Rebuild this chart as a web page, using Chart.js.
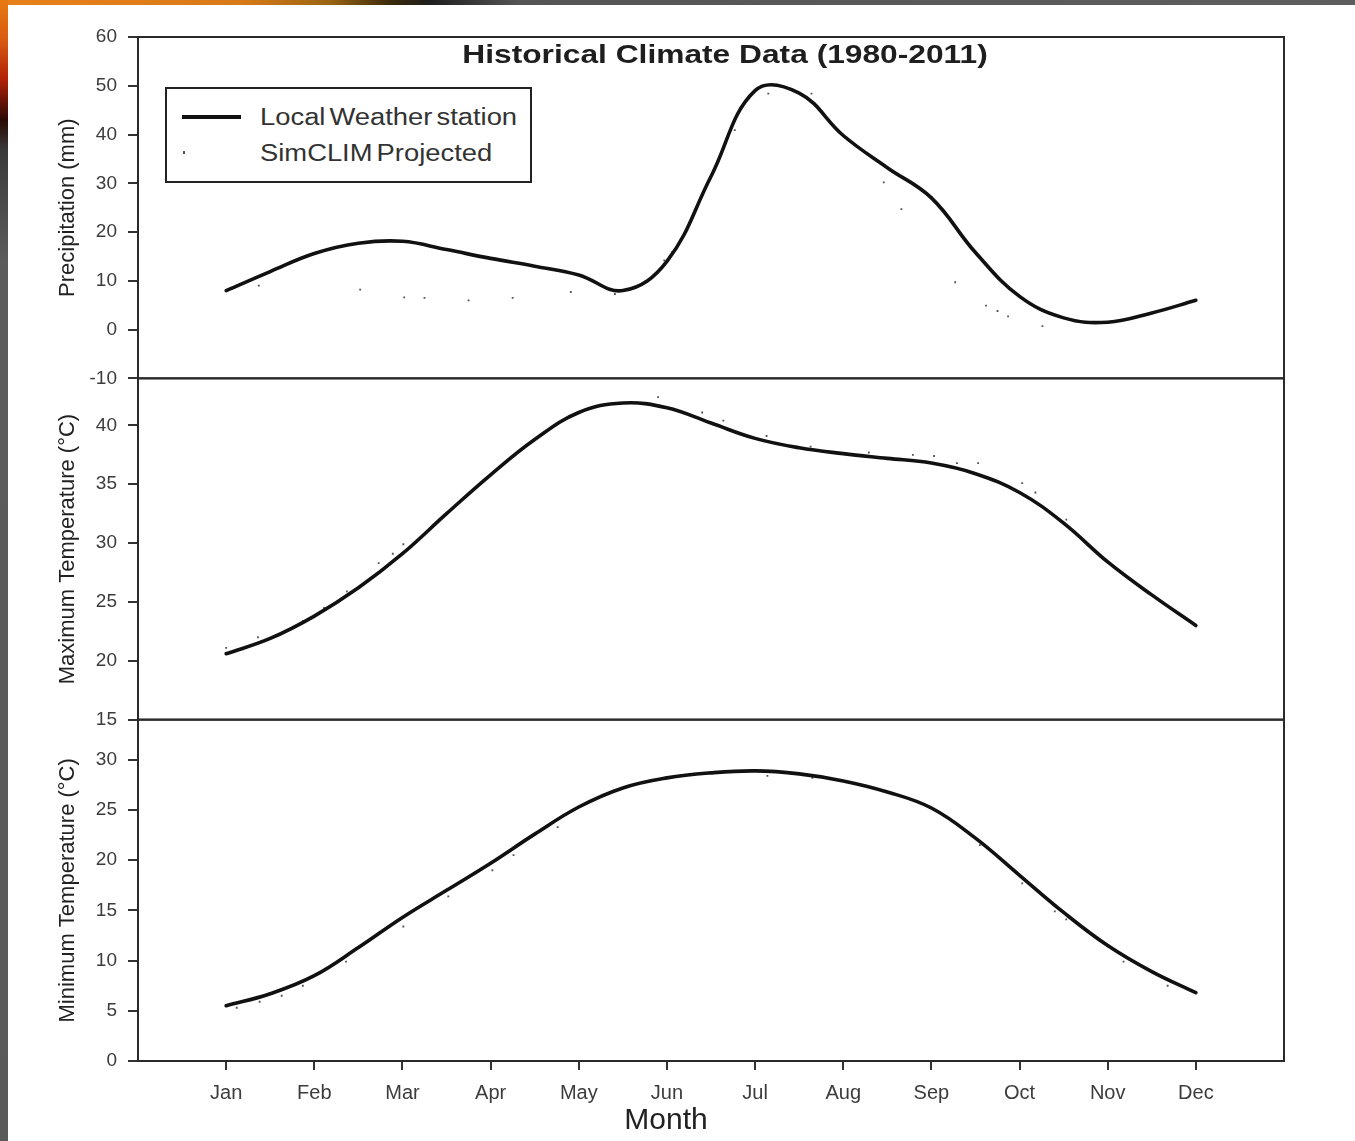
<!DOCTYPE html>
<html>
<head>
<meta charset="utf-8">
<script src="https://cdn.jsdelivr.net/npm/chart.js@4.4.1/dist/chart.umd.min.js"></script>
<style>
  html, body { margin:0; padding:0; width:1355px; height:1141px; overflow:hidden; background:#5a5a5a; }
  #topStrip { position:absolute; left:0; top:0; width:1355px; height:5px;
    background: linear-gradient(to right, #e8801a 0px, #d97a18 240px, #9a6312 330px, #3a2a0a 390px, #1e1e1e 430px, #555 520px, #5e5e5e 1355px); }
  #leftStrip { position:absolute; left:0; top:0; width:8px; height:1141px;
    background: linear-gradient(to bottom, #e87a12 0px, #d85a10 40px, #b02008 80px, #2a0a04 120px, #3a3a3a 150px, #5c5c5c 260px, #5a5a5a 1141px); }
  #wrap { position:absolute; left:8px; top:5px; width:1347px; height:1136px; background:#fff; }
  #chart { display:block; width:1347px; height:1136px; }
  .ov { position:absolute; white-space:nowrap; font-family:'Liberation Sans', Arial, sans-serif; }
  #title { left:725px; top:54px; font-weight:bold; font-size:26px; color:#1e1e1e;
    transform: translate(-50%, -50%) scaleX(1.22); }
  #legend { position:absolute; left:165px; top:87px; width:367px; height:96px; box-sizing:border-box;
    border:2px solid #222; background:#fff; }
  #legLine { position:absolute; left:15px; top:26px; width:59px; height:4px; background:#111; }
  #legDot { position:absolute; left:16px; top:62px; width:2px; height:3px; background:#555; }
  .legText { position:absolute; left:93px; font-size:23px; color:#333; word-spacing:-3px;
    transform-origin: left center; transform: translateY(-50%) scaleX(1.19); white-space:nowrap;
    font-family:'Liberation Sans', Arial, sans-serif; }
  #legT1 { top:28px; }
  #legT2 { top:64px; }
  #month { left:666px; top:1119px; font-size:30px; color:#222; transform: translate(-50%, -50%); }
</style>
</head>
<body>
<div id="topStrip"></div>
<div id="leftStrip"></div>
<div id="wrap"><canvas id="chart" width="1347" height="1136"></canvas></div>
<div id="title" class="ov">Historical Climate Data (1980-2011)</div>
<div id="legend">
  <div id="legLine"></div>
  <div id="legDot"></div>
  <div id="legT1" class="legText">Local Weather station</div>
  <div id="legT2" class="legText">SimCLIM Projected</div>
</div>
<div id="month" class="ov">Month</div>

<script>
// ---------- categories / tick labels ----------
const monthLabels = ['Jan','Feb','Mar','Apr','May','Jun','Jul','Aug','Sep','Oct','Nov','Dec'];
const monthPos = [1,2,3,4,5,6,7,8,9,10,11,12];
const precipTicks = [-10,0,10,20,30,40,50,60];
const maxTempTicks = [15,20,25,30,35,40];
const minTempTicks = [0,5,10,15,20,25,30];

// ---------- Local Weather station: values at every half month ----------
const halfMonthX = [1,1.5,2,2.5,3,3.5,4,4.5,5,5.5,6,6.5,7,7.5,8,8.5,9,9.5,10,10.5,11,11.5,12];
const localPrecip = [8.0,11.9,15.6,17.7,18.1,16.4,14.6,13.0,11.2,8.0,14.0,31.4,49.0,48.5,39.8,33.2,27.0,15.8,6.8,2.4,1.5,3.4,6.0];
const localMaxT   = [20.6,21.9,23.8,26.2,29.1,32.5,35.8,38.8,41.1,41.9,41.5,40.2,38.9,38.1,37.6,37.2,36.8,35.9,34.3,31.7,28.4,25.6,23.0];
const localMinT   = [5.5,6.7,8.5,11.3,14.3,17.0,19.7,22.6,25.3,27.2,28.2,28.7,28.9,28.6,27.9,26.8,25.2,22.2,18.5,14.8,11.5,8.9,6.8];

// ---------- SimCLIM Projected (sparse dots) ----------
const simPrecipX = [1.37,2.52,3.02,3.25,3.75,4.25,4.91,5.41,5.97,6.06,6.77,7.15,7.64,8.46,8.66,9.27,9.62,9.75,9.87,10.26];
const simPrecipY = [9.0,8.2,6.6,6.5,6.0,6.5,7.7,7.3,14.2,15.9,40.9,48.4,48.4,30.2,24.7,9.7,4.9,3.8,2.7,0.7];

const simMaxX = [1.0,1.36,1.87,2.11,2.37,2.73,2.89,3.01,5.90,6.40,6.64,7.13,7.63,8.29,8.79,9.03,9.29,9.53,10.03,10.18,10.53];
const simMaxY = [21.1,22.0,23.4,24.5,25.9,28.3,29.1,29.9,42.4,41.1,40.4,39.1,38.2,37.7,37.5,37.4,36.8,36.8,35.1,34.3,32.0];

const simMinX = [1.12,1.38,1.63,1.87,2.36,3.01,3.52,4.02,4.26,4.76,7.14,7.65,8.31,9.55,10.03,10.40,10.53,11.18,11.68];
const simMinY = [5.3,5.9,6.5,7.5,9.9,13.4,16.4,19.0,20.5,23.3,28.4,28.2,27.2,21.5,17.7,14.9,14.1,9.9,7.5];

const pts = (xs, ys) => xs.map((x, i) => ({x: x, y: ys[i]}));

const FONT = "'Liberation Sans', Arial, sans-serif";
const tickColor = '#3c3c3c';

function lineDS(label, xs, ys, axis) {
  return { label, data: pts(xs, ys), yAxisID: axis, borderColor:'#111', borderWidth:3.6,
           pointRadius:0, fill:false, tension:0.4,
           borderJoinStyle:'round', borderCapStyle:'round' };
}
function dotDS(label, xs, ys, axis) {
  return { label, data: pts(xs, ys), yAxisID: axis, showLine:false, pointStyle:'rect',
           pointRadius:1.3, backgroundColor:'#555', borderWidth:0 };
}
function yAxis(ticksArr, min, max, title, weight) {
  return {
    type:'linear', position:'left', stack:'panels', stackWeight:1, weight: weight,
    min: min, max: max,
    afterBuildTicks: s => { s.ticks = ticksArr.map(v => ({value: v})); },
    afterFit: s => { s.width = 130; },
    ticks: { font:{family:FONT, size:19}, color:tickColor, padding:11, autoSkip:false },
    grid: { drawOnChartArea:false, drawTicks:true, tickLength:10, color:'#333', lineWidth:2 },
    border: { display:false },
    title: { display:true, text:title, font:{family:FONT, size:22}, color:'#222', padding:{top:47, bottom:0} }
  };
}

const framePlugin = {
  id: 'panelFrames',
  afterDraw(chart) {
    const {ctx, chartArea:a} = chart;
    ctx.save();
    ctx.strokeStyle = '#2a2a2a';
    ctx.lineWidth = 2;
    ['yP','yMax','yMin'].forEach(id => {
      const s = chart.scales[id];
      ctx.strokeRect(a.left, s.top, a.right - a.left, s.bottom - s.top);
    });
    ctx.restore();
  }
};

new Chart(document.getElementById('chart'), {
  type: 'line',
  data: {
    datasets: [
      lineDS('Local Weather station', halfMonthX, localPrecip, 'yP'),
      dotDS('SimCLIM Projected', simPrecipX, simPrecipY, 'yP'),
      lineDS('Local Weather station', halfMonthX, localMaxT, 'yMax'),
      dotDS('SimCLIM Projected', simMaxX, simMaxY, 'yMax'),
      lineDS('Local Weather station', halfMonthX, localMinT, 'yMin'),
      dotDS('SimCLIM Projected', simMinX, simMinY, 'yMin')
    ]
  },
  options: {
    responsive: false,
    animation: false,
    layout: { padding: { left:0, right:71, top:32, bottom:0 } },
    plugins: { legend:{display:false}, tooltip:{enabled:false}, title:{display:false} },
    scales: {
      x: {
        type:'linear', min:0, max:13,
        afterBuildTicks: s => { s.ticks = monthPos.map(v => ({value: v})); },
        afterFit: s => { s.height = 80; },
        ticks: { font:{family:FONT, size:20}, color:tickColor, padding:11, maxRotation:0, autoSkip:false,
                 callback: v => monthLabels[monthPos.indexOf(v)] },
        grid: { drawOnChartArea:false, drawTicks:true, tickLength:9, color:'#333', lineWidth:2 },
        border: { display:false },
        title: { display:false, text:'Month' }
      },
      yMin: yAxis(minTempTicks, 0, 34, 'Minimum Temperature (°C)', 1),
      yMax: yAxis(maxTempTicks, 15, 44, 'Maximum Temperature (°C)', 2),
      yP:   yAxis(precipTicks, -10, 60, 'Precipitation (mm)', 3)
    }
  },
  plugins: [framePlugin]
});
</script>
</body>
</html>
